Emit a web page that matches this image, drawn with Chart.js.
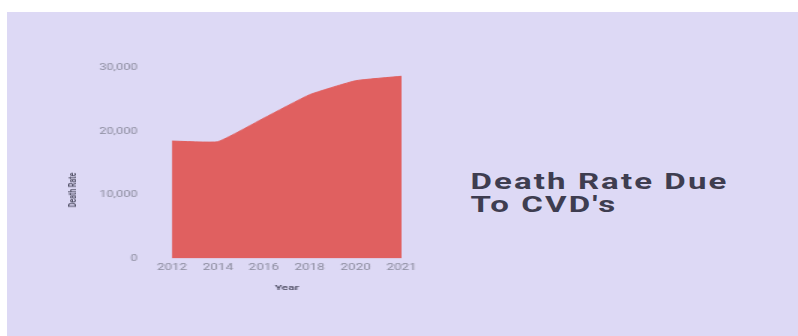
<!DOCTYPE html>
<html>
<head>
<meta charset="utf-8">
<script src="https://cdn.jsdelivr.net/npm/chart.js@4.4.0/dist/chart.umd.min.js"></script>
<style>
  html, body { margin: 0; padding: 0; background: #ffffff; }
  body { width: 798px; height: 336px; position: relative; overflow: hidden; }
  /* the reference looks stretched sideways, so the whole board is drawn narrow and widened */
  #board {
    position: absolute; left: 7px; top: 12px;
    width: 528px; height: 324px;
    background: #ddd9f5;
    transform: scaleX(1.5); transform-origin: 0 0;
    font-family: Roboto, "Noto Sans", sans-serif;
  }
  #chartBox { position: absolute; left: 0; top: 0; width: 300px; height: 324px; }
  #yTitle {
    position: absolute; left: 44px; top: 178px;
    transform: translate(-50%, -50%) rotate(-90deg);
    font-size: 7px; font-weight: bold; color: #55546a; white-space: nowrap;
  }
  #heading {
    position: absolute; left: 309px; top: 158px;
    font-size: 22px; line-height: 23px; font-weight: bold; color: #3e3d50;
    letter-spacing: 1.4px; white-space: nowrap;
  }
</style>
</head>
<body>
<div id="board">
  <div id="chartBox"><canvas id="myChart"></canvas></div>
  <div id="yTitle">Death Rate</div>
  <div id="heading">Death Rate Due<br>To CVD's</div>
</div>
<script>
var years = ['2012', '2014', '2016', '2018', '2020', '2021'];
var deathRate = [18500, 18400, 22100, 25800, 28000, 28700];
var yTicks = [0, 10000, 20000, 30000];

var ctx = document.getElementById('myChart').getContext('2d');
var chart = new Chart(ctx, {
    type: 'line',
    data: {
        labels: years,
        datasets: [{
            label: 'Death Rate',
            data: deathRate,
            fill: 'origin',
            backgroundColor: '#e06060',
            borderColor: '#e06060',
            borderWidth: 1,
            pointRadius: 0,
            tension: 0.12
        }]
    },
    options: {
        responsive: true,
        maintainAspectRatio: false,
        animation: false,
        layout: { padding: { left: 0, right: 37, top: 56, bottom: 43 } },
        plugins: { legend: { display: false }, tooltip: { enabled: false } },
        scales: {
            x: {
                offset: false,
                grid: { display: false, drawTicks: false },
                border: { display: false },
                ticks: { color: '#8a8a9c', font: { family: 'Roboto', size: 9 }, padding: 4, maxRotation: 0, autoSkip: false },
                title: { display: true, text: 'Year', color: '#55546a', font: { family: 'Roboto', size: 8, weight: 'bold' }, padding: { top: 6, bottom: 0 } }
            },
            y: {
                min: yTicks[0],
                max: yTicks[yTicks.length - 1],
                afterBuildTicks: function (scale) { scale.ticks = yTicks.map(function (v) { return { value: v }; }); },
                afterFit: function (scale) { scale.width = 110; },
                grid: { display: false, drawTicks: false },
                border: { display: false },
                ticks: {
                    color: '#8a8a9c', font: { family: 'Roboto', size: 8.5 }, padding: 23,
                    callback: function (v) { return v.toLocaleString('en-US'); }
                }
            }
        }
    }
});
</script>
</body>
</html>
